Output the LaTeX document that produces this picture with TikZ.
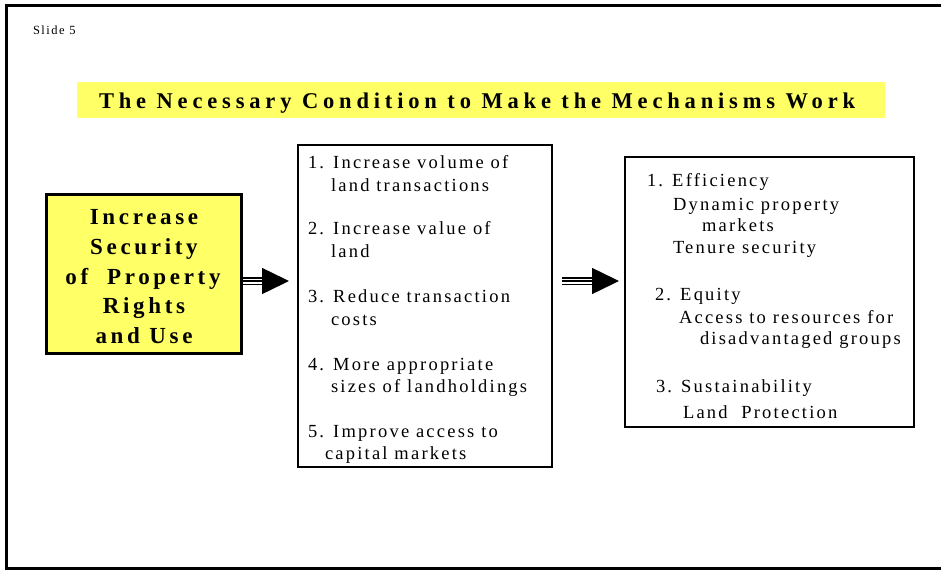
\documentclass[tikz,border=0pt]{standalone}
\usepackage{fontspec}
\setmainfont{Liberation Serif}
\newfontfamily\bodyfont[LetterSpace=12]{Liberation Serif}
\newfontfamily\headfont[LetterSpace=21.5]{Liberation Serif}
\newfontfamily\boxfont[LetterSpace=16]{Liberation Serif}
\usetikzlibrary{arrows.meta}

\definecolor{slideyellow}{RGB}{255,255,102}

\tikzset{
	txt/.style={inner sep=0pt, outer sep=0pt, anchor=base west, font=\bodyfont\fontsize{18.5}{20}\selectfont},
	headtxt/.style={inner sep=0pt, outer sep=0pt, anchor=base, font=\boxfont\bfseries\fontsize{23}{30}\selectfont},
	framebox/.style={draw, line width=2pt, minimum width=#1, inner sep=0pt},
	shaft/.style={line width=1.5pt, double=white, double distance=5pt},
	bighead/.style={line width=1.5pt, -{Triangle[length=27pt, width=26pt]}}
}

\begin{document}
\begin{tikzpicture}[x=1pt, y=-1pt, line join=miter]
	\useasboundingbox (0,0) rectangle (941,570);
	
	% slide frame
	\draw[line width=3pt] (941,5.5) -- (6.5,5.5) -- (6.5,568.5) -- (941,568.5);
	\node[txt, font=\bodyfont\fontsize{12.5}{14}\selectfont] (slidenum) at (33,34) {Slide 5};
	
	% title
	\node[fill=slideyellow, minimum width=808, minimum height=36, inner sep=0pt, anchor=north west] (titlebar) at (77,82) {};
	\node[headtxt, anchor=base west, font=\headfont\bfseries\fontsize{22.5}{30}\selectfont] (title) at (99,108) {The Necessary Condition to Make the Mechanisms Work};
	
	% left box
	\node[framebox=195, line width=3pt, fill=slideyellow, minimum height=159] (secure) at (144,274) {};
	\node[headtxt] (sec1) at (144,224) {Increase};
	\node[headtxt] (sec2) at (144,254) {Security};
	\node[headtxt] (sec3) at (143,284) {of~~Property};
	\node[headtxt] (sec4) at (144,313) {Rights};
	\node[headtxt] (sec5) at (144,343) {and Use};
	
	% middle box
	\node[framebox=254, minimum height=322] (levers) at (425,306) {};
	\node[txt] (lev1) at (308,168) {1. Increase volume of};
	\node[txt] (lev1b) at (331,191) {land transactions};
	\node[txt] (lev2) at (308,234) {2. Increase value of};
	\node[txt] (lev2b) at (331,257) {land};
	\node[txt] (lev3) at (308,302) {3. Reduce transaction};
	\node[txt] (lev3b) at (331,325) {costs};
	\node[txt] (lev4) at (308,370) {4. More appropriate};
	\node[txt] (lev4b) at (331,392) {sizes of landholdings};
	\node[txt] (lev5) at (308,437) {5. Improve access to};
	\node[txt] (lev5b) at (325,459) {capital markets};
	
	% right box
	\node[framebox=289, minimum height=270] (goals) at (769.5,292) {};
	\node[txt] (goal1) at (647,186) {1. Efficiency};
	\node[txt] (goal1a) at (673,210) {Dynamic property};
	\node[txt] (goal1b) at (702,231) {markets};
	\node[txt] (goal1c) at (673,253) {Tenure security};
	\node[txt] (goal2) at (655,300) {2. Equity};
	\node[txt] (goal2a) at (679,323) {Access to resources for};
	\node[txt] (goal2b) at (700,344) {disadvantaged groups};
	\node[txt] (goal3) at (656,392) {3. Sustainability};
	\node[txt] (goal3a) at (683,418) {Land~~Protection};
	
	% arrows
	\coordinate (arrowrow) at (0,281);
	\draw[shaft, shorten >=33pt] (secure.east |- arrowrow) -- (levers.west |- arrowrow);
	\draw[bighead, shorten >=8pt] (secure.east |- arrowrow) -- (levers.west |- arrowrow);
	\draw[shaft, shorten <=9pt, shorten >=31pt] (levers.east |- arrowrow) -- (goals.west |- arrowrow);
	\draw[bighead, shorten <=9pt, shorten >=5pt] (levers.east |- arrowrow) -- (goals.west |- arrowrow);
\end{tikzpicture}
\end{document}
